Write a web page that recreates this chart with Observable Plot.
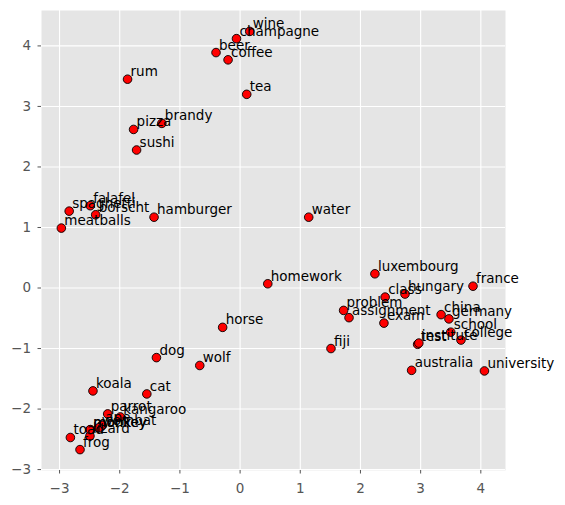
<!DOCTYPE html>
<html>
<head>
<meta charset="utf-8">
<script src="https://cdn.jsdelivr.net/npm/d3@7"></script>
<script src="https://cdn.jsdelivr.net/npm/@observablehq/plot@0.6"></script>
<style>
  html, body { margin: 0; padding: 0; background: #fff; }
</style>
</head>
<body>
<div id="chart"></div>
<script>
const words = ["coffee","tea","beer","wine","brandy","rum","champagne","water",
  "spaghetti","borscht","hamburger","pizza","falafel","sushi","meatballs",
  "dog","horse","cat","monkey","parrot","koala","lizard","frog","toad","monkey","ape","kangaroo","wombat","wolf",
  "france","germany","hungary","luxembourg","australia","fiji","china",
  "homework","assignment","problem","exam","test","class","school","college","university","institute"];
const xs = [-0.20, 0.11, -0.40, 0.16, -1.30, -1.87, -0.06, 1.14,
  -2.84, -2.40, -1.43, -1.77, -2.49, -1.72, -2.97,
  -1.39, -0.29, -1.55, -2.49, -2.20, -2.445, -2.495, -2.66, -2.82, -2.49, -2.29, -1.99, -2.35, -0.67,
  3.87, 3.47, 2.74, 2.24, 2.85, 1.51, 3.34,
  0.46, 1.81, 1.72, 2.39, 2.95, 2.41, 3.50, 3.67, 4.06, 2.97];
const ys = [3.77, 3.20, 3.89, 4.24, 2.72, 3.45, 4.12, 1.17,
  1.27, 1.21, 1.17, 2.62, 1.36, 2.28, 0.99,
  -1.15, -0.65, -1.75, -2.34, -2.08, -1.70, -2.445, -2.67, -2.47, -2.34, -2.27, -2.13, -2.31, -1.28,
  0.03, -0.51, -0.10, 0.235, -1.36, -1.00, -0.44,
  0.07, -0.49, -0.37, -0.58, -0.93, -0.15, -0.73, -0.86, -1.37, -0.91];
const xTicks = [-3, -2, -1, 0, 1, 2, 3, 4];
const yTicks = [-3, -2, -1, 0, 1, 2, 3, 4];

const data = words.map((w, i) => ({word: w, x: xs[i], y: ys[i]}));

const chart = Plot.plot({
  width: 565,
  height: 505,
  marginLeft: 41,
  marginRight: 60,
  marginTop: 10,
  marginBottom: 35,
  style: {fontFamily: "DejaVu Sans", fontSize: "13.5px", background: "#fff", color: "#555"},
  x: {domain: [-3.3, 4.41], label: null},
  y: {domain: [-3.015, 4.585], label: null},
  marks: [
    Plot.frame({fill: "#E5E5E5", stroke: null}),
    Plot.gridX(xTicks, {stroke: "#fff", strokeOpacity: 1, strokeWidth: 1.1}),
    Plot.gridY(yTicks, {stroke: "#fff", strokeOpacity: 1, strokeWidth: 1.1}),
    Plot.axisX({ticks: xTicks, tickSize: 3.5, tickPadding: 9, label: null, color: "#555"}),
    Plot.axisY({ticks: yTicks, tickSize: 3.5, tickPadding: 7, label: null, color: "#555"}),
    Plot.dot(data, {x: "x", y: "y", r: 4.3, fill: "red", stroke: "black", strokeWidth: 0.9}),
    Plot.text(data, {x: d => d.x + 0.05, y: d => d.y + 0.05, text: "word",
      textAnchor: "start", lineAnchor: "bottom", fill: "black", fontSize: 13.5})
  ]
});
document.getElementById("chart").appendChild(chart);
</script>
</body>
</html>
